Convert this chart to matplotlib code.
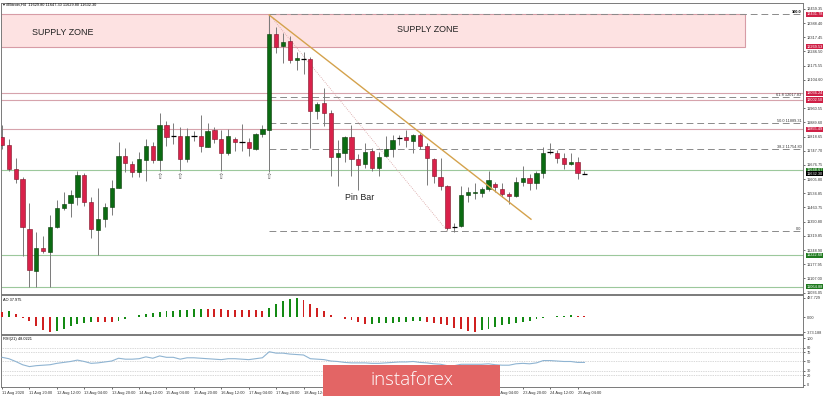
import numpy as np
import matplotlib
matplotlib.use("Agg")
import matplotlib.pyplot as plt
import matplotlib.transforms as mtransforms
from matplotlib.patches import Rectangle

# ---- data (#Bitcoin) ----
opens = [11818, 11775, 11655, 11604, 11356, 11144, 11261, 11241, 11366, 11459,
         11484, 11517, 11626, 11489, 11350, 11405, 11467, 11559, 11721, 11681,
         11640, 11701, 11772, 11701, 11877, 11823, 11822, 11706, 11823, 11822,
         11768, 11852, 11807, 11736, 11808, 11790, 11793, 11757, 11832, 11852,
         12332, 12275, 12299, 12203, 12208, 12208, 11947, 11986, 11939, 11715,
         11738, 11815, 11705, 11680, 11748, 11663, 11721, 11755, 11813, 11815,
         11798, 11827, 11773, 11706, 11617, 11571, 11363, 11370, 11526, 11534,
         11534, 11554, 11579, 11554, 11529, 11521, 11591, 11609, 11587, 11638,
         11740, 11738, 11710, 11683, 11690, 11630]
highs = [11877, 11805, 11710, 11617, 11484, 11341, 11321, 11425, 11500, 11542,
         11551, 11646, 11638, 11517, 11559, 11484, 11601, 11790, 11763, 11696,
         11740, 11808, 11793, 11936, 11897, 11886, 11866, 11860, 11847, 11926,
         11886, 11868, 11852, 11855, 11818, 11882, 11810, 11835, 11877, 12429,
         12367, 12337, 12324, 12245, 12245, 12217, 11994, 12061, 11952, 11802,
         11822, 11877, 11731, 11785, 11760, 11743, 11822, 11827, 11827, 11852,
         11830, 11835, 11788, 11710, 11710, 11574, 11383, 11572, 11567, 11584,
         11564, 11648, 11592, 11584, 11542, 11614, 11673, 11631, 11648, 11768,
         11785, 11751, 11735, 11738, 11718, 11647]
lows = [11757, 11648, 11584, 11219, 11065, 11065, 11233, 11065, 11360, 11450,
        11417, 11475, 11470, 11308, 11224, 11366, 11425, 11559, 11643, 11617,
        11614, 11597, 11685, 11646, 11772, 11782, 11646, 11690, 11798, 11740,
        11765, 11785, 11646, 11726, 11748, 11748, 11721, 11751, 11818, 11643,
        12237, 12187, 12190, 12153, 12133, 11760, 11906, 11872, 11621, 11571,
        11693, 11621, 11551, 11660, 11648, 11622, 11718, 11718, 11777, 11768,
        11738, 11755, 11576, 11587, 11551, 11350, 11341, 11366, 11492, 11506,
        11517, 11547, 11542, 11516, 11479, 11514, 11571, 11551, 11554, 11609,
        11730, 11685, 11656, 11675, 11604, 11630]
closes = [11777, 11655, 11607, 11363, 11149, 11258, 11246, 11366, 11459, 11480,
          11526, 11626, 11492, 11356, 11404, 11464, 11559, 11721, 11685, 11640,
          11706, 11772, 11701, 11877, 11818, 11823, 11706, 11822, 11823, 11772,
          11848, 11807, 11736, 11820, 11790, 11790, 11760, 11830, 11855, 12332,
          12270, 12295, 12203, 12212, 12208, 11949, 11982, 11939, 11718, 11735,
          11815, 11705, 11676, 11741, 11663, 11718, 11755, 11802, 11813, 11802,
          11827, 11773, 11713, 11621, 11572, 11358, 11363, 11526, 11539, 11539,
          11554, 11601, 11564, 11531, 11521, 11589, 11609, 11584, 11638, 11738,
          11740, 11713, 11681, 11693, 11635, 11632]

ao_values = [120, 145, 80, -25, -95, -225, -320, -373, -335, -280,
             -225, -175, -135, -105, -115, -120, -125, -95, -45, 15,
             55, 85, 110, 130, 145, 160, 175, 190, 200, 210,
             205, 200, 195, 190, 185, 180, 175, 170, 165, 220,
             320, 400, 455, 488, 430, 330, 240, 150, 70, 10,
             -30, -65, -120, -160, -155, -150, -145, -135, -125, -110,
             -100, -95, -110, -140, -160, -200, -255, -300, -335, -360,
             -320, -280, -240, -200, -160, -135, -105, -80, -45, -20,
             5, 22, 38, 48, 44, 38]

rsi_values = [59, 56, 50, 43, 39, 41, 42, 43, 46, 48,
              50, 53, 50, 46, 47, 49, 51, 57, 55, 55,
              56, 60, 57, 62, 59, 59, 55, 58, 58, 57,
              56, 55, 54, 56, 56, 55, 54, 56, 58, 71,
              68, 68, 66, 65, 64, 56, 55, 54, 51, 50,
              48, 47, 47, 47, 46, 46, 47, 48, 49, 49,
              50, 48, 47, 45, 44, 41, 41, 44, 44, 44,
              44, 45, 43, 42, 42, 45, 46, 45, 47, 52,
              52, 51, 50, 50, 48, 48]

time_label_idx = [0, 4, 8, 12, 16, 20, 24, 28, 32, 36, 40, 44,
                  48, 52, 56, 60, 64, 68, 72, 76, 80, 84]
time_labels = ["11 Aug 2020", "11 Aug 20:00", "12 Aug 12:00", "13 Aug 04:00",
               "13 Aug 20:00", "14 Aug 12:00", "15 Aug 04:00", "15 Aug 20:00",
               "16 Aug 12:00", "17 Aug 04:00", "17 Aug 20:00", "18 Aug 12:00",
               "19 Aug 04:00", "19 Aug 20:00", "20 Aug 12:00", "21 Aug 04:00",
               "21 Aug 20:00", "22 Aug 12:00", "23 Aug 04:00", "23 Aug 20:00",
               "24 Aug 12:00", "25 Aug 04:00"]

price_ticks = [12459.35, 12388.40, 12317.45, 12246.50, 12175.55, 12104.60,
               11960.55, 11889.60, 11818.65, 11747.70, 11676.75, 11605.80,
               11534.85, 11463.75, 11390.80, 11319.85, 11248.90, 11177.95,
               11107.00, 11036.05]
ao_ticks = [487.729, 0.0, -373.188]
ao_tick_labels = ["487.729", "0.00", "-373.188"]
rsi_ticks = [100, 80, 70, 50, 30, 20, 0]
rsi_levels = [80, 70, 50, 30, 20]

supply_low, supply_high = 12269.53, 12431.78
pink_levels = [12036.24, 12002.50, 11855.49]
green_levels = [11648.67, 11222.68, 11064.88]
last_price = 11632.30

fib_names = ["100.0", "61.8 12017.83", "50.0 11889.31", "38.2 11754.80", "0.0"]
fib_prices = [12432.0, 12017.83, 11889.31, 11754.80, 11344.9]
fib_start = 39

trend_x = [39, 77.2]
trend_y = [12429, 11404]
fib_diag_x = [39, 65]
fib_diag_y = [12432, 11345]

fractal_idx = [23, 26, 32, 39]

# ---- styling ----
W, H = 823, 396
GREEN = "#0b6b12"
RED = "#d9214a"
PINK_LINE = "#d6a3ac"
GREEN_LINE = "#9cc89c"
SMALL = 2.8
FONT = "Liberation Sans"

fig = plt.figure(figsize=(W / 100, H / 100), dpi=100)
fig.patch.set_facecolor("white")


def px_axes(top, bottom, left=1, right=803):
    return fig.add_axes([left / W, 1 - bottom / H, (right - left) / W, (bottom - top) / H])


ax = px_axes(3, 294)
ax_ao = px_axes(295, 334)
ax_rsi = px_axes(335, 386.5)

x = np.arange(len(opens))
o = np.array(opens, float)
h = np.array(highs, float)
l = np.array(lows, float)
c = np.array(closes, float)

# ---- main chart ----
ax.add_patch(Rectangle((-1, supply_low), 40, supply_high - supply_low,
                       facecolor="#fde2e2", edgecolor="#d79ca6", lw=0.8, zorder=1))
ax.add_patch(Rectangle((39, supply_low), 69.5, supply_high - supply_low,
                       facecolor="#fde2e2", edgecolor="#d79ca6", lw=0.8, zorder=1))
ax.text(8.9, 12340, "SUPPLY ZONE", fontsize=6.4, family=FONT, color="#222222",
        ha="center", va="center", zorder=2)
ax.text(62.1, 12357, "SUPPLY ZONE", fontsize=6.4, family=FONT, color="#222222",
        ha="center", va="center", zorder=2)

for lv in pink_levels:
    ax.axhline(lv, color=PINK_LINE, lw=0.8, zorder=1)
for lv in green_levels:
    ax.axhline(lv, color=GREEN_LINE, lw=0.8, zorder=1)

for name, lv in zip(fib_names, fib_prices):
    ax.hlines(lv, fib_start, 117, color="#8a8a8a", lw=0.7,
              linestyles=(0, (7, 4)), zorder=2)
    ax.text(0.998, lv, name, transform=mtransforms.blended_transform_factory(ax.transAxes, ax.transData),
            fontsize=SMALL, family=FONT, ha="right", va="bottom",
            color="black" if name == "100.0" else "#333333",
            fontweight="bold" if name == "100.0" else "normal", zorder=3)

ax.plot(fib_diag_x, fib_diag_y, color="#d8a0a0", lw=0.6, ls=(0, (1, 1.5)), zorder=2)
ax.plot(trend_x, trend_y, color="#d4a24c", lw=1.0, zorder=5)

bull = c > o + 3
bear = c < o - 3
doji = ~(bull | bear)
ax.vlines(x, l, h, color="#7a7a7a", lw=0.7, zorder=3)
ax.bar(x[bull], (c - o)[bull], bottom=o[bull], width=0.62, color=GREEN,
       edgecolor="#0a3a0a", lw=0.4, zorder=4)
ax.bar(x[bear], (o - c)[bear], bottom=c[bear], width=0.62, color=RED,
       edgecolor="#7c1226", lw=0.4, zorder=4)
ax.hlines(o[doji], x[doji] - 0.4, x[doji] + 0.4, color="black", lw=0.9, zorder=4)

for i in fractal_idx:
    ax.text(i, l[i] - 26, "\u21e7", fontsize=5.5, color="#606060",
            ha="center", va="center", family="DejaVu Sans", zorder=4)

ax.text(52.2, 11514, "Pin Bar", fontsize=6.4, family=FONT, color="#222222",
        ha="center", va="center", zorder=5)

# right-axis coloured price labels
trans_r = mtransforms.blended_transform_factory(ax.transAxes, ax.transData)


def price_tag(value, color, ax_=ax):
    ax_.text(1.004, value, f"{value:.2f}", transform=trans_r, fontsize=SMALL,
             family=FONT, color="white", ha="left", va="center", clip_on=False,
             bbox=dict(boxstyle="square,pad=0.18", fc=color, ec="none"), zorder=6)


for v in [supply_high, supply_low] + pink_levels:
    price_tag(v, "#cf2046")
for v in green_levels:
    price_tag(v, "#1f7a1f")
price_tag(last_price, "black")

ax.set_xlim(-0.15, 116.9)
ax.set_ylim(11028.6, 12489.4)
ax.set_yticks(price_ticks)
ax.set_yticklabels([f"{v:.2f}" for v in price_ticks])

# ---- AO panel ----
ao = np.array(ao_values, float)
ao_colors = ["#d02020"] + ["#138a13" if ao[i] > ao[i - 1] else "#d02020" for i in range(1, len(ao))]
ax_ao.bar(x, ao, width=0.28, color=ao_colors, zorder=3)
ax_ao.set_xlim(-0.15, 116.9)
ax_ao.set_ylim(-417, 557)
ax_ao.set_yticks(ao_ticks)
ax_ao.set_yticklabels(ao_tick_labels)
ax_ao.text(0.003, 0.93, f"AO {ao_values[-1] - 0.025:.3f}", transform=ax_ao.transAxes,
           fontsize=SMALL, family=FONT, ha="left", va="top")

# ---- RSI panel ----
for lv in rsi_levels:
    ax_rsi.axhline(lv, color="#b4b4b4", lw=0.5, ls=(0, (1, 1.5)), zorder=1)
ax_rsi.plot(x, rsi_values, color="#8fb4d2", lw=0.8, zorder=3)
ax_rsi.set_xlim(-0.15, 116.9)
ax_rsi.set_ylim(-3.9, 107.1)
ax_rsi.set_yticks(rsi_ticks)
ax_rsi.set_yticklabels([str(v) for v in rsi_ticks])
ax_rsi.text(0.003, 0.96, "RSI(21) 48.0221", transform=ax_rsi.transAxes,
            fontsize=SMALL, family=FONT, ha="left", va="top")
ax_rsi.set_xticks(time_label_idx)
ax_rsi.set_xticklabels(time_labels, ha="left")

for a in (ax, ax_ao, ax_rsi):
    a.set_facecolor("white")
    a.yaxis.tick_right()
    a.tick_params(axis="y", direction="out", length=1.5, width=0.5, pad=1,
                  labelsize=SMALL, colors="#333333")
    for s in a.spines.values():
        s.set_color("#7a7a7a")
        s.set_linewidth(0.7)
    if a is not ax_rsi:
        a.set_xticks([])
    for lab in a.get_yticklabels():
        lab.set_family(FONT)

ax_rsi.tick_params(axis="x", direction="out", length=1.5, width=0.5, pad=1.5,
                   labelsize=2.9, colors="#333333")
for lab in ax_rsi.get_xticklabels():
    lab.set_family(FONT)

# header
fig.text(3 / W, 1 - 5 / H, "\u25be #Bitcoin,H4  11629.80 11647.30 11629.80 11632.30",
         fontsize=SMALL, family=[FONT, "DejaVu Sans"], ha="left", va="center")

# watermark box
fig.patches.append(Rectangle((323 / W, 0), 177 / W, 31 / H, transform=fig.transFigure,
                             facecolor="#e36565", edgecolor="none", zorder=20))
fig.text(411.5 / W, 1 - 380 / H, "instaforex", fontsize=13.5, color="white",
         family="Open Sans", fontweight="light", ha="center", va="center", zorder=21)

fig.savefig("out.png", dpi=100, facecolor="white")
